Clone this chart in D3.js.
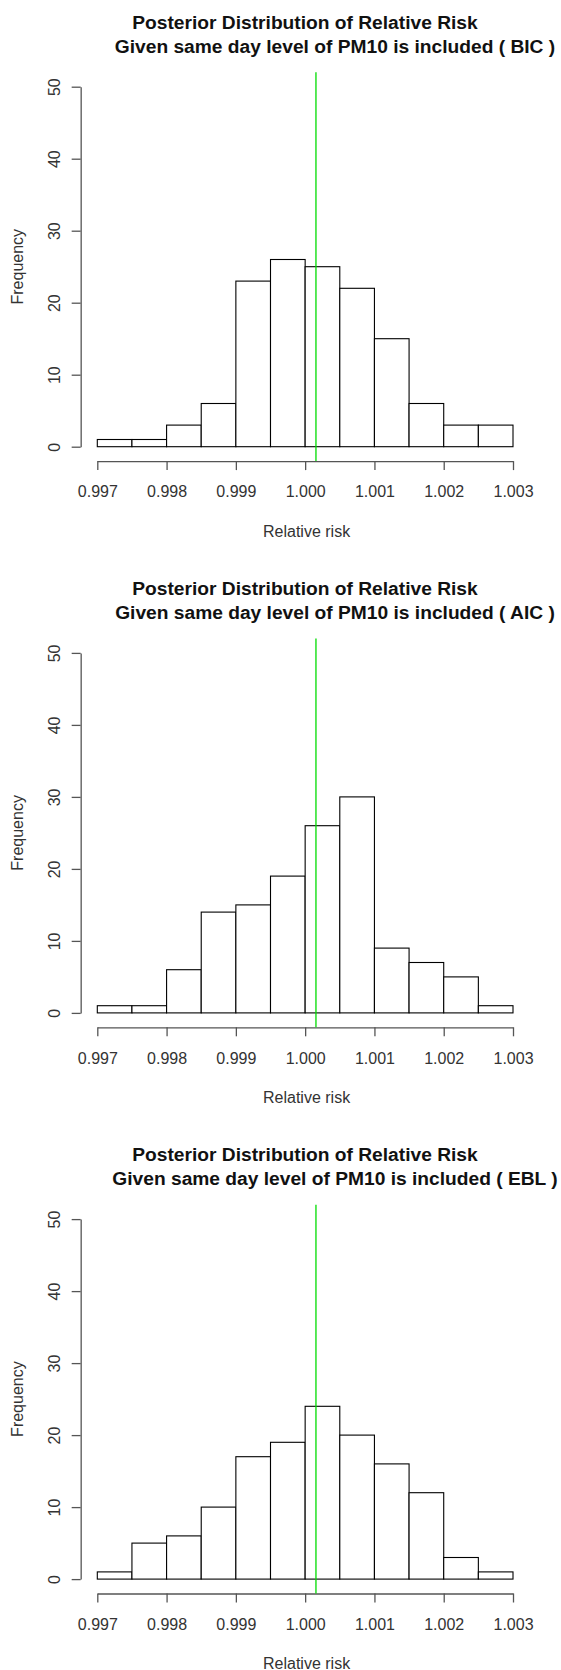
<!DOCTYPE html>
<html>
<head>
<meta charset="utf-8">
<script src="https://cdn.jsdelivr.net/npm/d3@7"></script>
<style>
  body { margin: 0; background: #fff; }
  text { font-family: "Liberation Sans", Arial, sans-serif; }
</style>
</head>
<body>
<div id="chart"></div>
<script>
// histogram breaks (bin edges)
const breaks = [0.997, 0.9975, 0.998, 0.9985, 0.999, 0.9995, 1.0, 1.0005, 1.001, 1.0015, 1.002, 1.0025, 1.003];
const xTicks = [0.997, 0.998, 0.999, 1.0, 1.001, 1.002, 1.003];
const yTicks = [0, 10, 20, 30, 40, 50];

const panelNames = ["BIC", "AIC", "EBL"];
const bicCounts = [1, 1, 3, 6, 23, 26, 25, 22, 15, 6, 3, 3];
const aicCounts = [1, 1, 6, 14, 15, 19, 26, 30, 9, 7, 5, 1];
const eblCounts = [1, 5, 6, 10, 17, 19, 24, 20, 16, 12, 3, 1];
const allCounts = [bicCounts, aicCounts, eblCounts];

// vertical reference line
const refValue = 1.000156;

const dimensions = {
  width: 561,
  height: 1670,
  panelHeight: 566.2,
};

const svg = d3
  .select("#chart")
  .append("svg")
  .attr("width", dimensions.width)
  .attr("height", dimensions.height);

svg.append("rect").attr("width", dimensions.width).attr("height", dimensions.height).attr("fill", "#fff");

const xScale = d3.scaleLinear().domain([0.997, 1.003]).range([97.3, 513]);
const yScale = d3.scaleLinear().domain([0, 50]).range([446.7, 86.7]);

const drawPanel = (counts, name, i) => {
  const oy = i * dimensions.panelHeight;
  const ctr = svg.append("g").attr("transform", `translate(0,${oy})`);

  const bins = counts.map((c, j) => ({ x0: breaks[j], x1: breaks[j + 1], count: c }));

  // bars
  ctr
    .append("g")
    .selectAll("rect")
    .data(bins)
    .join("rect")
    .attr("x", (d) => xScale(d.x0))
    .attr("y", (d) => yScale(d.count))
    .attr("width", (d) => xScale(d.x1) - xScale(d.x0))
    .attr("height", (d) => yScale(0) - yScale(d.count))
    .attr("fill", "#fff")
    .attr("stroke", "#000")
    .attr("stroke-width", 1.1);

  // x axis
  const xAxis = d3
    .axisBottom(xScale)
    .tickValues(xTicks)
    .tickFormat(d3.format(".3f"))
    .tickSize(9)
    .tickSizeOuter(0)
    .tickPadding(16);
  const xAxisGroup = ctr
    .append("g")
    .attr("transform", `translate(0,${yScale(-2)})`)
    .call(xAxis);
  xAxisGroup.selectAll("path, line").attr("stroke", "#555").attr("stroke-width", 1.3);
  xAxisGroup.selectAll("text").attr("fill", "#333").attr("font-size", "16px").attr("font-family", "Liberation Sans, Arial, sans-serif");

  // y axis
  const yAxis = d3.axisLeft(yScale).tickValues(yTicks).tickSize(9).tickSizeOuter(0);
  const yAxisGroup = ctr
    .append("g")
    .attr("transform", `translate(${xScale(0.99676)},0)`)
    .call(yAxis);
  yAxisGroup.selectAll("path, line").attr("stroke", "#555").attr("stroke-width", 1.3);
  yAxisGroup
    .selectAll("text")
    .attr("x", null)
    .attr("dy", null)
    .attr("transform", "translate(-20.7,0) rotate(-90)")
    .style("text-anchor", "middle")
    .attr("fill", "#333")
    .attr("font-size", "16px")
    .attr("font-family", "Liberation Sans, Arial, sans-serif");

  // reference line
  ctr
    .append("line")
    .attr("x1", xScale(refValue))
    .attr("x2", xScale(refValue))
    .attr("y1", yScale(52))
    .attr("y2", yScale(-2))
    .attr("stroke", "#00dd00")
    .attr("stroke-width", 1.3);

  // titles
  ctr
    .append("text")
    .attr("x", 305)
    .attr("y", 29)
    .attr("text-anchor", "middle")
    .attr("font-weight", "bold")
    .attr("font-size", "19.2px")
    .attr("fill", "#111")
    .text("Posterior Distribution of Relative Risk");
  ctr
    .append("text")
    .attr("x", 335)
    .attr("y", 52.5)
    .attr("text-anchor", "middle")
    .attr("font-weight", "bold")
    .attr("font-size", "19.2px")
    .attr("fill", "#111")
    .text(`Given same day level of PM10 is included ( ${name} )`);

  // axis labels
  ctr
    .append("text")
    .attr("x", 306.6)
    .attr("y", 536.7)
    .attr("text-anchor", "middle")
    .attr("font-size", "16px")
    .attr("fill", "#333")
    .text("Relative risk");
  ctr
    .append("text")
    .attr("transform", `translate(23.3,${(yScale(-2) + yScale(52)) / 2}) rotate(-90)`)
    .attr("text-anchor", "middle")
    .attr("font-size", "16px")
    .attr("fill", "#333")
    .text("Frequency");
};

allCounts.forEach((counts, i) => drawPanel(counts, panelNames[i], i));
</script>
</body>
</html>
